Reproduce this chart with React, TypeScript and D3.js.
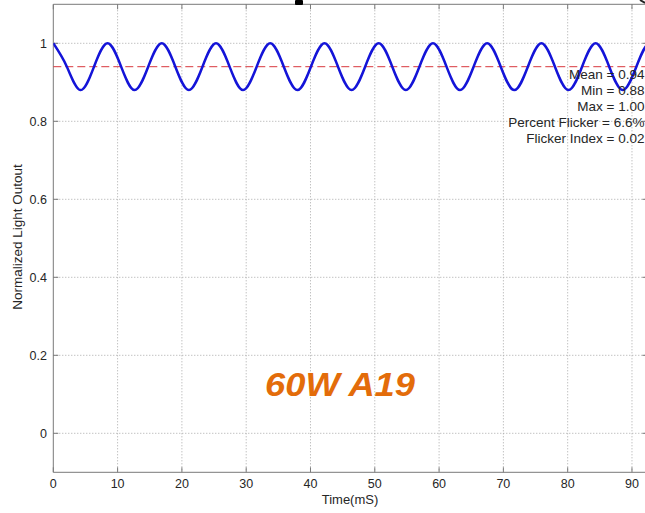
import React from "react";
import * as d3 from "d3";

// ---- data ----
const xTicks = [0, 10, 20, 30, 40, 50, 60, 70, 80, 90];
const yTicks = [0, 0.2, 0.4, 0.6, 0.8, 1];
const yTickLabels = ["0", "0.2", "0.4", "0.6", "0.8", "1"];

// peaks, mean crossings and troughs of the measured light output
const timeMs = [
  0, 2.11, 4.22, 6.33, 8.44, 10.55, 12.65, 14.76, 16.87, 18.98, 21.09, 23.2,
  25.31, 27.42, 29.52, 31.63, 33.74, 35.85, 37.96, 40.07, 42.18, 44.28, 46.39,
  48.5, 50.61, 52.72, 54.83, 56.94, 59.05, 61.16, 63.26, 65.37, 67.48, 69.59,
  71.7, 73.81, 75.92, 78.02, 80.13, 82.24, 84.35, 86.46, 88.57, 90.68, 92.79,
  94.9,
];
const lightOutput = [
  1.0, 0.94, 0.88, 0.94, 1.0, 0.94, 0.88, 0.94, 1.0, 0.94, 0.88, 0.94, 1.0,
  0.94, 0.88, 0.94, 1.0, 0.94, 0.88, 0.94, 1.0, 0.94, 0.88, 0.94, 1.0, 0.94,
  0.88, 0.94, 1.0, 0.94, 0.88, 0.94, 1.0, 0.94, 0.88, 0.94, 1.0, 0.94, 0.88,
  0.94, 1.0, 0.94, 0.88, 0.94, 1.0, 0.94,
];
const meanValue = 0.94;
const statLines = [
  "Mean = 0.94",
  "Min = 0.88",
  "Max = 1.00",
  "Percent Flicker = 6.6%",
  "Flicker Index = 0.02",
];
const xLabel = "Time(mS)";
const yLabel = "Normalized Light Outout";
const titleText = "60W A19";

const W = 645;
const H = 513;
const left = 53.3;
const right = 647.4;
const top = 4.3;
const bottom = 472.3;

export default function App() {
  const x = d3.scaleLinear().domain([0, 92.4]).range([left, right]);
  const y = d3.scaleLinear().domain([-0.1, 1.1]).range([bottom, top]);
  const pts = timeMs.map((t, i) => [t, lightOutput[i]] as [number, number]);
  const line = d3
    .line<[number, number]>()
    .x((d) => x(d[0]))
    .y((d) => y(d[1]))
    .curve(d3.curveNatural);
  const axisColor = "#7a7a7a";
  const gridColor = "#a8a8a8";
  const textColor = "#262626";
  const font = "'Liberation Sans', Arial, sans-serif";
  const tick = 5;

  return (
    <svg
      width={W}
      height={H}
      style={{ position: "absolute", left: 0, top: 0, background: "#fff" }}
      fontFamily={font}
    >
      <defs>
        <clipPath id="plotClip">
          <rect x={left} y={top} width={right - left} height={bottom - top} />
        </clipPath>
      </defs>
      <rect x={0} y={0} width={W} height={H} fill="#fff" />
      {/* grid */}
      {xTicks.map((t) =>
        t === 0 ? null : (
          <line
            key={"gx" + t}
            x1={x(t)}
            x2={x(t)}
            y1={top}
            y2={bottom}
            stroke={gridColor}
            strokeWidth={1}
            strokeDasharray="1,2"
          />
        )
      )}
      {yTicks.map((t) => (
        <line
          key={"gy" + t}
          x1={left}
          x2={right}
          y1={y(t)}
          y2={y(t)}
          stroke={gridColor}
          strokeWidth={1}
          strokeDasharray="1,2"
        />
      ))}
      {/* axes box */}
      <line x1={left} x2={left} y1={top} y2={bottom} stroke={axisColor} />
      <line x1={right} x2={right} y1={top} y2={bottom} stroke={axisColor} />
      <line x1={left} x2={right} y1={bottom} y2={bottom} stroke={axisColor} />
      <line x1={left} x2={right} y1={top} y2={top} stroke={axisColor} />
      {/* ticks */}
      {xTicks.map((t) => (
        <g key={"tx" + t}>
          <line x1={x(t)} x2={x(t)} y1={bottom} y2={bottom - tick} stroke={axisColor} />
          <line x1={x(t)} x2={x(t)} y1={top} y2={top + tick} stroke={axisColor} />
          <text
            x={x(t)}
            y={488}
            textAnchor="middle"
            fontSize={12.5}
            fill={textColor}
          >
            {t}
          </text>
        </g>
      ))}
      {yTicks.map((t, i) => (
        <g key={"ty" + t}>
          <line x1={left} x2={left + tick} y1={y(t)} y2={y(t)} stroke={axisColor} />
          <line x1={right} x2={right - tick} y1={y(t)} y2={y(t)} stroke={axisColor} />
          <text
            x={47}
            y={y(t) + 4.4}
            textAnchor="end"
            fontSize={12.5}
            fill={textColor}
          >
            {yTickLabels[i]}
          </text>
        </g>
      ))}
      {/* mean line */}
      <line
        x1={left}
        x2={right}
        y1={y(meanValue)}
        y2={y(meanValue)}
        stroke="#d8383e"
        strokeWidth={1}
        strokeDasharray="8,4"
      />
      {/* waveform */}
      <path
        d={line(pts) || ""}
        fill="none"
        stroke="#1414d8"
        strokeWidth={2.5}
        clipPath="url(#plotClip)"
      />
      {/* stats */}
      {statLines.map((s, i) => (
        <text
          key={s}
          x={644.5}
          y={78.5 + i * 16}
          textAnchor="end"
          fontSize={13.5}
          fill={textColor}
        >
          {s}
        </text>
      ))}
      {/* axis labels */}
      <text x={350} y={504} textAnchor="middle" fontSize={13} fill={textColor}>
        {xLabel}
      </text>
      <text
        transform={`translate(21.5, 237) rotate(-90)`}
        textAnchor="middle"
        fontSize={13.5}
        fill={textColor}
      >
        {yLabel}
      </text>
      {/* annotation */}
      <text
        x={265}
        y={396}
        fontSize={33}
        fontWeight="bold"
        fontStyle="italic"
        fill="#e36c0a"
        textLength={150}
        lengthAdjust="spacingAndGlyphs"
      >
        {titleText}
      </text>
      {/* cropping artifacts at the top edge */}
      <rect x={295} y={0} width={8} height={5} rx={1} fill="#000" />
      <line x1={640} y1={0} x2={645} y2={3} stroke="#222" strokeWidth={2} />
    </svg>
  );
}
